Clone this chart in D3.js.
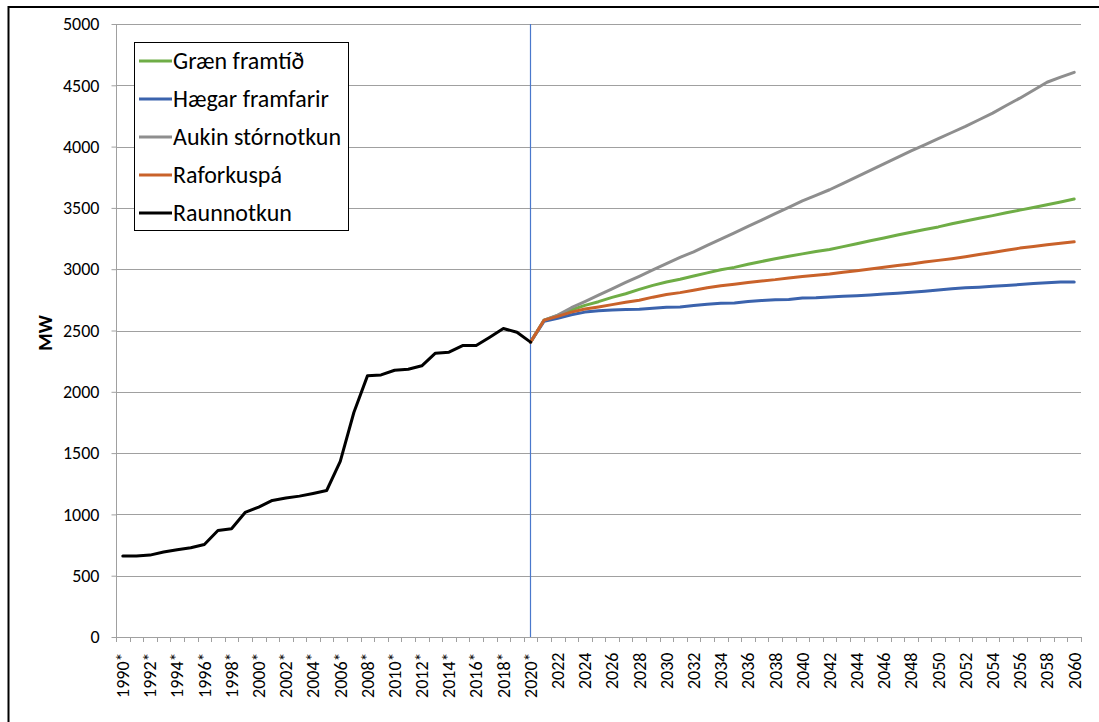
<!DOCTYPE html>
<html><head><meta charset="utf-8">
<script src="https://cdn.jsdelivr.net/npm/d3@7"></script>
<style>
html,body{margin:0;padding:0;background:#fff;}
svg{display:block;}
text{font-family:Carlito,Calibri,Lato,"Open Sans",sans-serif;fill:#000;}
</style></head>
<body>
<svg id="chart" width="1099" height="722"></svg>
<script>
// ---------- DATA ----------
const years = d3.range(1990, 2061);
const tickLabels = years.filter(y => y % 2 === 0).map(y => y <= 2020 ? y + "*" : String(y));
const yTicks = [0, 500, 1000, 1500, 2000, 2500, 3000, 3500, 4000, 4500, 5000];

const histYears = d3.range(1990, 2021);
const raunnotkun = [660, 660, 668, 693, 712, 728, 755, 869, 883, 1016, 1060, 1114, 1133, 1149, 1171, 1195, 1432, 1831, 2130, 2138, 2176, 2184, 2212, 2315, 2323, 2377, 2377, 2445, 2516, 2486, 2405];

const fcYears = d3.range(2020, 2061);
const graen = [2405, 2585, 2623, 2667, 2705, 2735, 2770, 2800, 2835, 2868, 2895, 2918, 2945, 2970, 2995, 3015, 3040, 3063, 3085, 3105, 3125, 3145, 3160, 3184, 3208, 3232, 3255, 3279, 3302, 3324, 3345, 3370, 3393, 3415, 3437, 3460, 3482, 3504, 3526, 3548, 3572];
const haegar = [2405, 2575, 2599, 2628, 2650, 2662, 2668, 2672, 2673, 2681, 2690, 2692, 2703, 2714, 2722, 2725, 2736, 2744, 2750, 2752, 2766, 2768, 2773, 2779, 2784, 2790, 2797, 2804, 2811, 2820, 2830, 2840, 2848, 2853, 2860, 2868, 2875, 2883, 2890, 2895, 2895];
const aukin = [2405, 2585, 2625, 2686, 2736, 2788, 2840, 2892, 2942, 2994, 3046, 3097, 3142, 3194, 3246, 3297, 3349, 3400, 3454, 3505, 3557, 3602, 3648, 3700, 3753, 3806, 3859, 3912, 3965, 4015, 4065, 4115, 4165, 4219, 4273, 4335, 4395, 4460, 4525, 4567, 4606];
const raforkuspa = [2405, 2585, 2615, 2650, 2675, 2692, 2711, 2730, 2747, 2772, 2793, 2809, 2828, 2848, 2865, 2877, 2891, 2904, 2915, 2929, 2940, 2950, 2961, 2975, 2988, 3002, 3016, 3030, 3043, 3058, 3072, 3086, 3102, 3120, 3137, 3155, 3172, 3186, 3199, 3212, 3223];

const seriesNames = ["Græn framtíð", "Hægar framfarir", "Aukin stórnotkun", "Raforkuspá", "Raunnotkun"];
const seriesColors = ["#6fad46", "#3b63ad", "#8e8e8e", "#c9622a", "#000000"];
const axisTitle = "MW";
const markerYear = 2020;

// ---------- CHART ----------
const svg = d3.select("#chart");
const L = 116, R = 1081, T = 24, B = 637;

const x = d3.scaleBand().domain(years).range([L, R]).padding(0);
const y = d3.scaleLinear().domain([0, 5000]).range([B, T]);
const cx = yr => x(yr) + x.bandwidth() / 2;

// outer border
svg.append("rect").attr("x", 8.5).attr("y", 7).attr("width", 1200).attr("height", 800)
  .attr("fill", "none").attr("stroke", "#000").attr("stroke-width", 2);

// gridlines
svg.append("g").selectAll("line").data(yTicks.filter(v => v > 0)).join("line")
  .attr("x1", L).attr("x2", R).attr("y1", d => Math.round(y(d)) + 0.5).attr("y2", d => Math.round(y(d)) + 0.5)
  .attr("stroke", "#a0a0a0").attr("stroke-width", 1);

// y axis
const yAxis = d3.axisLeft(y).tickValues(yTicks).tickSize(5).tickPadding(12).tickFormat(d3.format("d"));
const gy = svg.append("g").attr("transform", `translate(${L + 0.5},0)`).call(yAxis);
gy.attr("font-size", null).attr("font-family", null);
gy.selectAll(".tick line").attr("stroke", "#a0a0a0");
gy.select(".domain").attr("stroke", "#a0a0a0").attr("d", `M0,${T}V${B}`);
gy.selectAll("text").style("font-size", "18px");

// x axis
const xAxis = d3.axisBottom(x).tickValues(years.filter(v => v % 2 === 0)).tickSize(0)
  .tickFormat(v => tickLabels[(v - 1990) / 2]);
const gx = svg.append("g").attr("transform", `translate(0,${B + 0.5})`).call(xAxis);
gx.attr("font-size", null).attr("font-family", null);
gx.select(".domain").attr("stroke", "#a0a0a0").attr("d", `M${L},0H${R}`);
gx.selectAll("text").style("font-size", "18px").attr("text-anchor", "end")
  .attr("y", 0).attr("dy", "0.35em").attr("transform", "translate(0,15) rotate(-90)");
// category boundary ticks
const bounds = years.map(v => x(v)).concat([R]);
svg.append("g").selectAll("line").data(bounds).join("line")
  .attr("x1", d => Math.round(d) + 0.5).attr("x2", d => Math.round(d) + 0.5)
  .attr("y1", B).attr("y2", B + 5).attr("stroke", "#a0a0a0");

// axis title
svg.append("text").attr("transform", `translate(52,333) rotate(-90)`).attr("text-anchor", "middle")
  .style("font-size", "20px").style("font-weight", "bold").text(axisTitle);

// marker line at 2020
svg.append("line").attr("x1", Math.round(cx(markerYear)) - 0.5).attr("x2", Math.round(cx(markerYear)) - 0.5)
  .attr("y1", T).attr("y2", B).attr("stroke", "#4a78cc").attr("stroke-width", 1.2);

// lines
const line = d3.line().x(d => cx(d[0])).y(d => y(d[1]));
const series = [
  {years: fcYears, values: graen},
  {years: fcYears, values: haegar},
  {years: fcYears, values: aukin},
  {years: fcYears, values: raforkuspa},
  {years: histYears, values: raunnotkun}
];
series.forEach((s, i) => {
  svg.append("path").datum(s.years.map((yr, j) => [yr, s.values[j]]))
    .attr("d", line).attr("fill", "none").attr("stroke", seriesColors[i])
    .attr("stroke-width", 3).attr("stroke-linejoin", "round").attr("stroke-linecap", "round");
});

// legend
const lg = svg.append("g");
lg.append("rect").attr("x", 134.5).attr("y", 42.5).attr("width", 214).attr("height", 188)
  .attr("fill", "#fff").attr("stroke", "#000").attr("stroke-width", 1);
const rowsY = [61, 99, 137, 175, 213];
seriesNames.forEach((n, i) => {
  lg.append("line").attr("x1", 139).attr("x2", 172).attr("y1", rowsY[i]).attr("y2", rowsY[i])
    .attr("stroke", seriesColors[i]).attr("stroke-width", 3);
  lg.append("text").attr("x", 173).attr("y", rowsY[i]).attr("dy", "0.35em")
    .style("font-size", "24px").text(n);
});
</script>
</body></html>
